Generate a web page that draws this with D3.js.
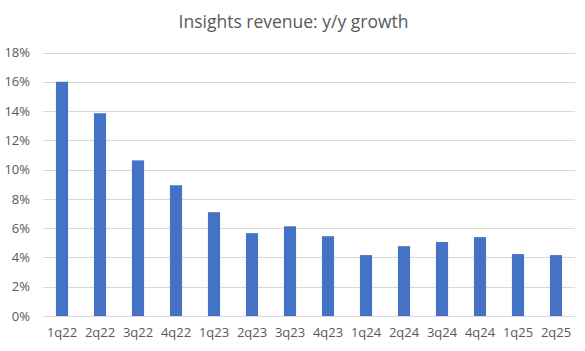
<!DOCTYPE html>
<html>
<head>
<meta charset="utf-8">
<script src="https://cdn.jsdelivr.net/npm/d3@7"></script>
<style>
  body { margin: 0; background: #fff; }
  svg { display: block; font-family: "Open Sans", "Liberation Sans", sans-serif; }
</style>
</head>
<body>
<svg id="chart" width="585" height="351"></svg>
<script>
const categories = ["1q22", "2q22", "3q22", "4q22", "1q23", "2q23", "3q23", "4q23",
                    "1q24", "2q24", "3q24", "4q24", "1q25", "2q25"]
const growth = [16.0, 13.85, 10.63, 8.93, 7.09, 5.66, 6.13, 5.45,
                4.16, 4.77, 5.05, 5.39, 4.23, 4.16]
const yTicks = [0, 2, 4, 6, 8, 10, 12, 14, 16, 18]
const title = "Insights revenue: y/y growth"

const width = 585, height = 351
const margin = { top: 52.5, right: 10, bottom: 35, left: 43 }

const svg = d3.select("#chart")

const x = d3.scaleBand()
    .domain(categories)
    .range([margin.left, width - margin.right])
    .paddingInner(0.68)
    .paddingOuter(0.34)

const y = d3.scaleLinear()
    .domain([0, 18])
    .range([316, margin.top])

// gridlines
svg.append("g")
    .selectAll("line")
    .data(yTicks)
    .join("line")
      .attr("x1", margin.left)
      .attr("x2", width - margin.right)
      .attr("y1", d => Math.round(y(d)) + 0.5)
      .attr("y2", d => Math.round(y(d)) + 0.5)
      .attr("stroke", "#d9d9d9")
      .attr("stroke-width", 1)

// bars
svg.append("g")
    .selectAll("rect")
    .data(categories)
    .join("rect")
      .attr("x", d => x(d))
      .attr("width", x.bandwidth())
      .attr("y", (d, i) => y(growth[i]))
      .attr("height", (d, i) => y(0) - y(growth[i]))
      .attr("fill", "#4472c4")

// y axis
const yAxis = d3.axisLeft(y)
    .tickValues(yTicks)
    .tickSize(0)
    .tickPadding(13)
    .tickFormat(d => d + "%")

svg.append("g")
    .attr("transform", `translate(${margin.left},0)`)
    .call(yAxis)
    .call(g => g.select(".domain").remove())
    .selectAll("text")
      .attr("fill", "#595959")
      .attr("font-size", "13px")
      .attr("font-family", "\"Open Sans\", sans-serif")

// x axis
const xAxis = d3.axisBottom(x)
    .tickSize(0)
    .tickPadding(12)

svg.append("g")
    .attr("transform", `translate(0,${y(0)})`)
    .call(xAxis)
    .call(g => g.select(".domain").remove())
    .selectAll("text")
      .attr("fill", "#595959")
      .attr("font-size", "13px")
      .attr("font-family", "\"Open Sans\", sans-serif")

// title
svg.append("text")
    .attr("x", 293.5)
    .attr("y", 28)
    .attr("text-anchor", "middle")
    .attr("fill", "#595959")
    .attr("font-size", "17.5px")
    .text(title)
</script>
</body>
</html>
